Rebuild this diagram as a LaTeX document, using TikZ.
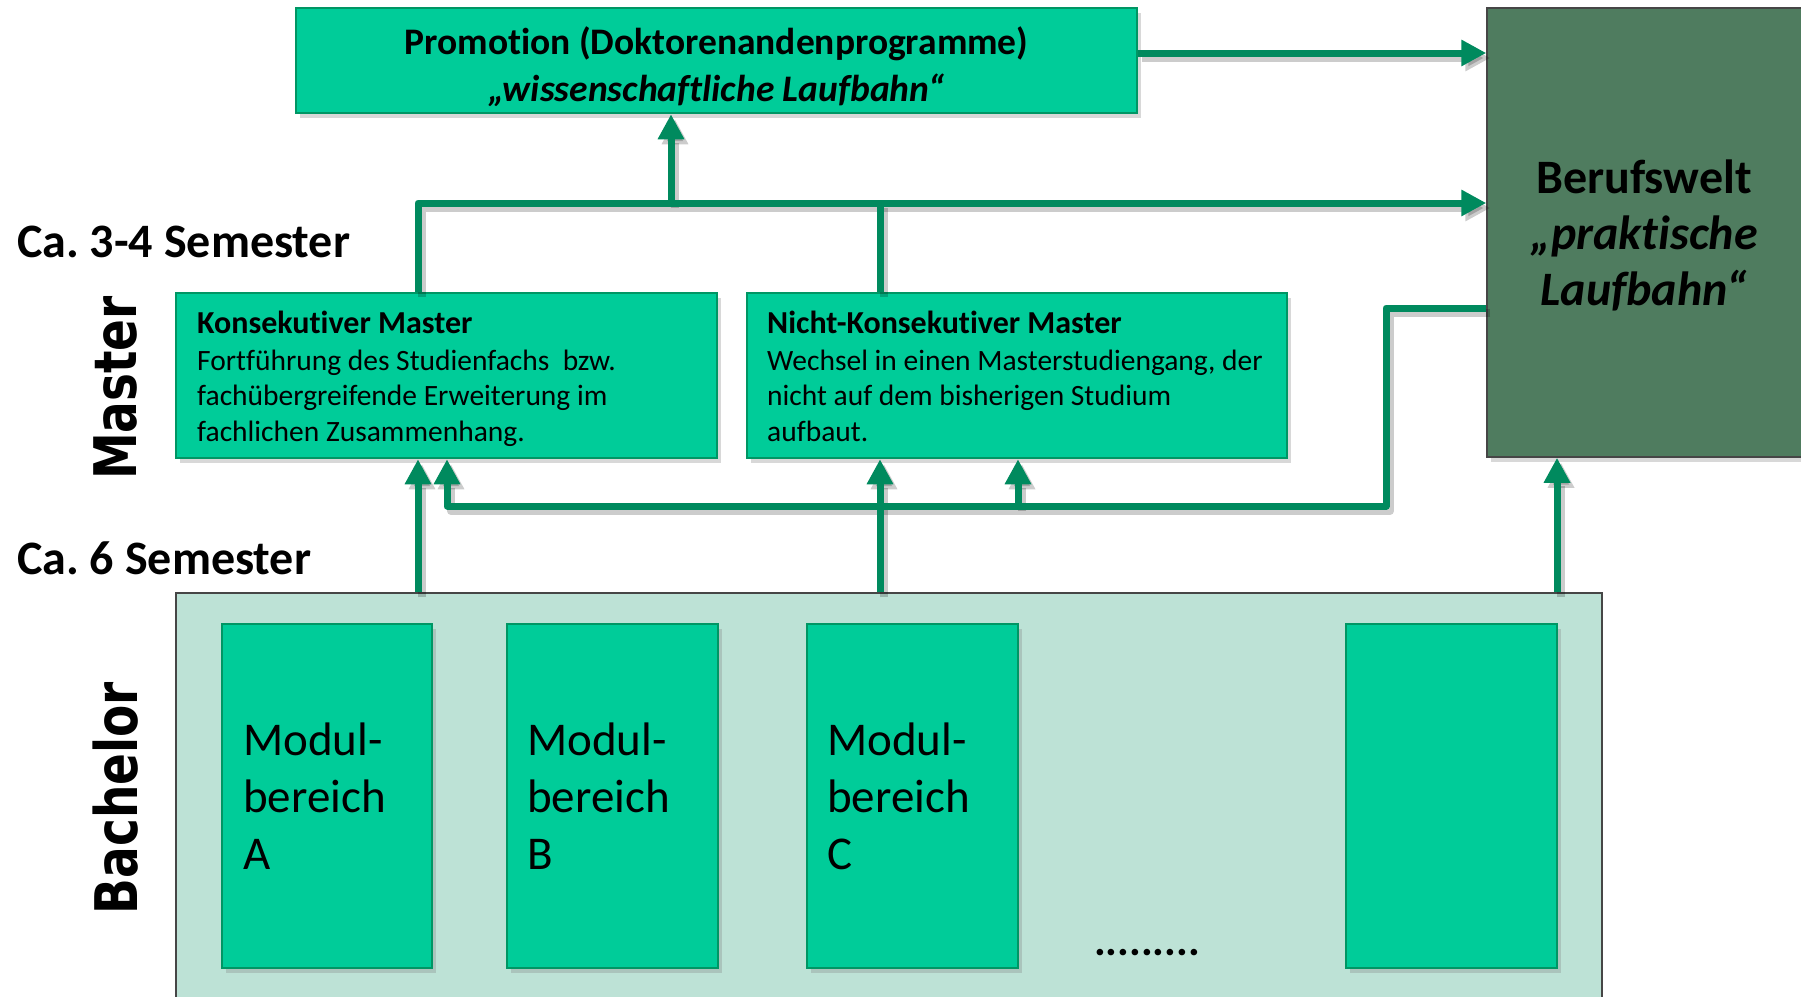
\documentclass[tikz,border=0pt]{standalone}
\usepackage{fontspec}
\setmainfont{Carlito}[Ligatures=NoCommon]
\newfontfamily\dejavu{DejaVu Sans}
\usetikzlibrary{arrows.meta,shadows}
\frenchspacing
\definecolor{boxgreen}{RGB}{0,204,153}
\definecolor{boxedge}{RGB}{0,150,100}
\definecolor{argreen}{RGB}{0,138,94}
\definecolor{berufgreen}{RGB}{79,124,95}
\definecolor{bachbg}{RGB}{189,226,214}
\definecolor{edgegray}{RGB}{70,70,70}
\newcommand\myconns[1]{%
  \draw[#1] ([yshift=7.5pt]prom.east) -- ([yshift=7.5pt]prom.east -| beruf.west);
  \draw[#1] (kons.north -| barL) |- (beruf.west |- barL);
  \draw[#1] (barM) -- (barM |- prom.south);
  \draw[#1,-] (nicht.north -| barN) -- (barN);
  \draw[#1] (bach.north -| barL) -- (kons.south -| barL);
  \draw[#1] (bach.north -| barN) -- (nicht.south -| barN);
  \draw[#1] (bach.north -| bx) -- (beruf.south -| bx);
  \draw[#1] (beruf.west |- fbA) -- (fbA) -- (fbB) -- (fbL) -- (fbL |- kons.south);
  \draw[#1] (fbN) -- (fbN |- nicht.south);
}
\begin{document}
\begin{tikzpicture}[x=1pt,y=-1pt,
  gbox/.style={draw=boxedge, line width=2.5pt, fill=boxgreen, inner sep=0pt,
    drop shadow={shadow xshift=4pt, shadow yshift=-5pt, opacity=0.3}},
  berufbox/.style={draw=edgegray, line width=1.5pt, fill=berufgreen, inner sep=0pt,
    drop shadow={shadow xshift=4pt, shadow yshift=-5pt, opacity=0.3}},
  bachbox/.style={draw=edgegray, line width=1.5pt, fill=bachbg, inner sep=0pt},
  txt/.style={inner sep=0pt, anchor=base west, text=black},
  ctxt/.style={inner sep=0pt, anchor=base, text=black},
  ar/.style={draw=argreen, line width=7pt, line join=round,
    -{Triangle[length=25pt,width=25pt]}},
  shd/.style={draw=black, opacity=0.2, line width=8pt, line join=round,
    -{Triangle[length=25pt,width=25pt]},
    transform canvas={shift={(4pt,-5pt)}}},
  vlabel/.style={inner sep=0pt, rotate=90, text=black,
    font=\dejavu\bfseries\fontsize{47}{50}\selectfont},
  semlabel/.style={txt, font=\bfseries\fontsize{48}{52}\selectfont},
  modtxt/.style={txt, font=\fontsize{47}{57}\selectfont},
  ttl/.style={txt, font=\bfseries\fontsize{32}{36}\selectfont},
  body/.style={txt, font=\fontsize{29.5}{36}\selectfont}
]
\useasboundingbox (0,0) rectangle (1801,996);
\fill[white] (0,0) rectangle (1801,996);

% boxes
\node[gbox, minimum width=841pt, minimum height=105pt] (prom) at (716.5,60.5) {};
\node[berufbox, minimum width=322pt, minimum height=449pt] (beruf) at (1648,232.5) {};
\node[gbox, minimum width=541pt, minimum height=165pt] (kons) at (446.5,375.5) {};
\node[gbox, minimum width=540pt, minimum height=165pt] (nicht) at (1017,375.5) {};
\node[bachbox, minimum width=1426pt, minimum height=430pt] (bach) at (889,808) {};
\node[gbox, minimum width=210pt, minimum height=344pt] (modA) at (327,796) {};
\node[gbox, minimum width=211pt, minimum height=344pt] (modB) at (612.5,796) {};
\node[gbox, minimum width=211pt, minimum height=344pt] (modC) at (912.5,796) {};
\node[gbox, minimum width=211pt, minimum height=344pt] (modD) at (1451.5,796) {};

% connector coordinates
\coordinate (barL) at (418,203);
\coordinate (barM) at (671,203);
\coordinate (barN) at (880,203);
\coordinate (bx) at (1557,593);
\coordinate (fbA) at (1386,308);
\coordinate (fbB) at (1386,506);
\coordinate (fbL) at (447,506);
\coordinate (fbN) at (1018,506);

\myconns{shd}
\myconns{ar}

% texts
\node[ctxt, font=\bfseries\fontsize{37.5}{44}\selectfont] (promA) at (716.5,54) {Promotion (Doktorenandenprogramme)};
\node[ctxt, font=\bfseries\itshape\fontsize{37.5}{44}\selectfont] (promB) at (716.5,101) {„wissenschaftliche Laufbahn“};

\node[ctxt, font=\bfseries\fontsize{48}{56}\selectfont] (berA) at (1644,193) {Berufswelt};
\node[ctxt, font=\bfseries\itshape\fontsize{48}{56}\selectfont] (berB) at (1644,249) {„praktische};
\node[ctxt, font=\bfseries\itshape\fontsize{48}{56}\selectfont] (berC) at (1644,305) {Laufbahn“};

\node[semlabel] (sem34) at (17,257) {Ca. 3-4 Semester};
\node[semlabel] (sem6) at (17,574) {Ca. 6 Semester};

\node[vlabel] (master) at (116,388) {\scalebox{1}[1.25]{Master}};
\node[vlabel] (bachelor) at (116,798) {\scalebox{1}[1.25]{Bachelor}};

\node[ttl] (konsT) at (197,333) {Konsekutiver Master};
\node[body] (konsA) at (197,370) {Fortführung des Studienfachs \ bzw.};
\node[body] (konsB) at (197,405) {fachübergreifende Erweiterung im};
\node[body] (konsC) at (197,441) {fachlichen Zusammenhang.};

\node[ttl] (nichtT) at (767,333) {Nicht-Konsekutiver Master};
\node[body] (nichtA) at (767,370) {Wechsel in einen Masterstudiengang, der};
\node[body] (nichtB) at (767,405) {nicht auf dem bisherigen Studium};
\node[body] (nichtC) at (767,441) {aufbaut.};

\node[modtxt] (mA1) at (243,755) {Modul-};
\node[modtxt] (mA2) at (243,812) {bereich};
\node[modtxt] (mA3) at (243,869) {A};
\node[modtxt] (mB1) at (527,755) {Modul-};
\node[modtxt] (mB2) at (527,812) {bereich};
\node[modtxt] (mB3) at (527,869) {B};
\node[modtxt] (mC1) at (827,755) {Modul-};
\node[modtxt] (mC2) at (827,812) {bereich};
\node[modtxt] (mC3) at (827,869) {C};

\node[txt, font=\bfseries\fontsize{44}{44}\selectfont] (dots) at (1094,955) {.........};
\end{tikzpicture}
\end{document}
